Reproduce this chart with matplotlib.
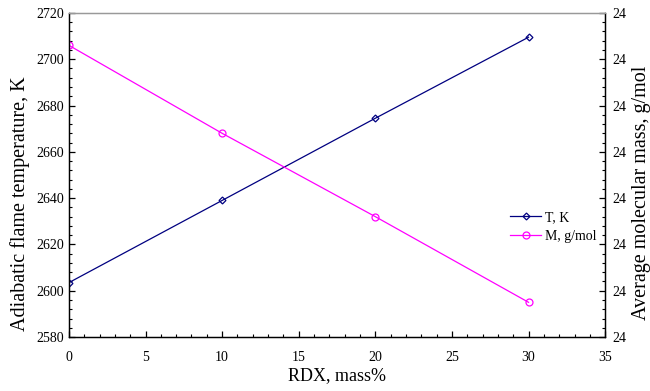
import matplotlib
matplotlib.use("Agg")
import matplotlib.pyplot as plt
from matplotlib.ticker import MultipleLocator, FormatStrFormatter

rdx = [0, 10, 20, 30]
temp_k = [2603.5, 2639.0, 2674.5, 2709.5]
mol_mass = [24.33, 24.14, 23.96, 23.775]

plt.rcParams["font.family"] = ["Liberation Serif", "DejaVu Serif"]

fig = plt.figure(figsize=(6.5, 3.91), dpi=100)
ax = fig.add_axes([0.106, 0.138, 0.825, 0.829])
ax2 = ax.twinx()

ln1, = ax.plot(rdx, temp_k, color="#000080", lw=0.9, marker="D", ms=3.5,
               mfc="none", mew=0.9, label="T, K")
ln2, = ax2.plot(rdx, mol_mass, color="#ff00ff", lw=0.9, marker="o", ms=5,
                mfc="none", mew=0.9, label="M, g/mol")

ax.set_xlim(0, 35)
ax.set_ylim(2580, 2720)
ax2.set_ylim(23.7, 24.4)

ax.xaxis.set_major_locator(MultipleLocator(5))
ax.xaxis.set_minor_locator(MultipleLocator(1))
ax.yaxis.set_major_locator(MultipleLocator(20))
ax.yaxis.set_minor_locator(MultipleLocator(4))
ax2.yaxis.set_major_locator(MultipleLocator(0.1))
ax2.yaxis.set_minor_locator(MultipleLocator(0.02))
ax2.yaxis.set_major_formatter(FormatStrFormatter("%.0f"))

for a in (ax, ax2):
    a.tick_params(which="major", direction="in", length=4, width=0.9, labelsize=10)
    a.tick_params(which="minor", direction="in", length=2.5, width=0.8)
    for s in a.spines.values():
        s.set_linewidth(0.9)
    a.spines["top"].set_color("#999999")
ax.tick_params(axis="x", which="major", pad=10)
ax2.tick_params(axis="y", which="major", pad=5)

ax.set_xlabel("RDX, mass%", fontsize=13, labelpad=2)
ax.set_ylabel("Adiabatic flame temperature, K", fontsize=14.5)
ax2.set_ylabel("Average molecular mass, g/mol", fontsize=14.5)
ax.yaxis.set_label_coords(-0.072, 0.41)
ax2.yaxis.set_label_coords(1.05, 0.445)

ax.legend([ln1, ln2], ["T, K", "M, g/mol"], loc="center left",
          bbox_to_anchor=(0.8, 0.34), frameon=False, fontsize=10,
          handlelength=2.2, handletextpad=0.3, labelspacing=0.4)

fig.savefig("out.png", dpi=100)
